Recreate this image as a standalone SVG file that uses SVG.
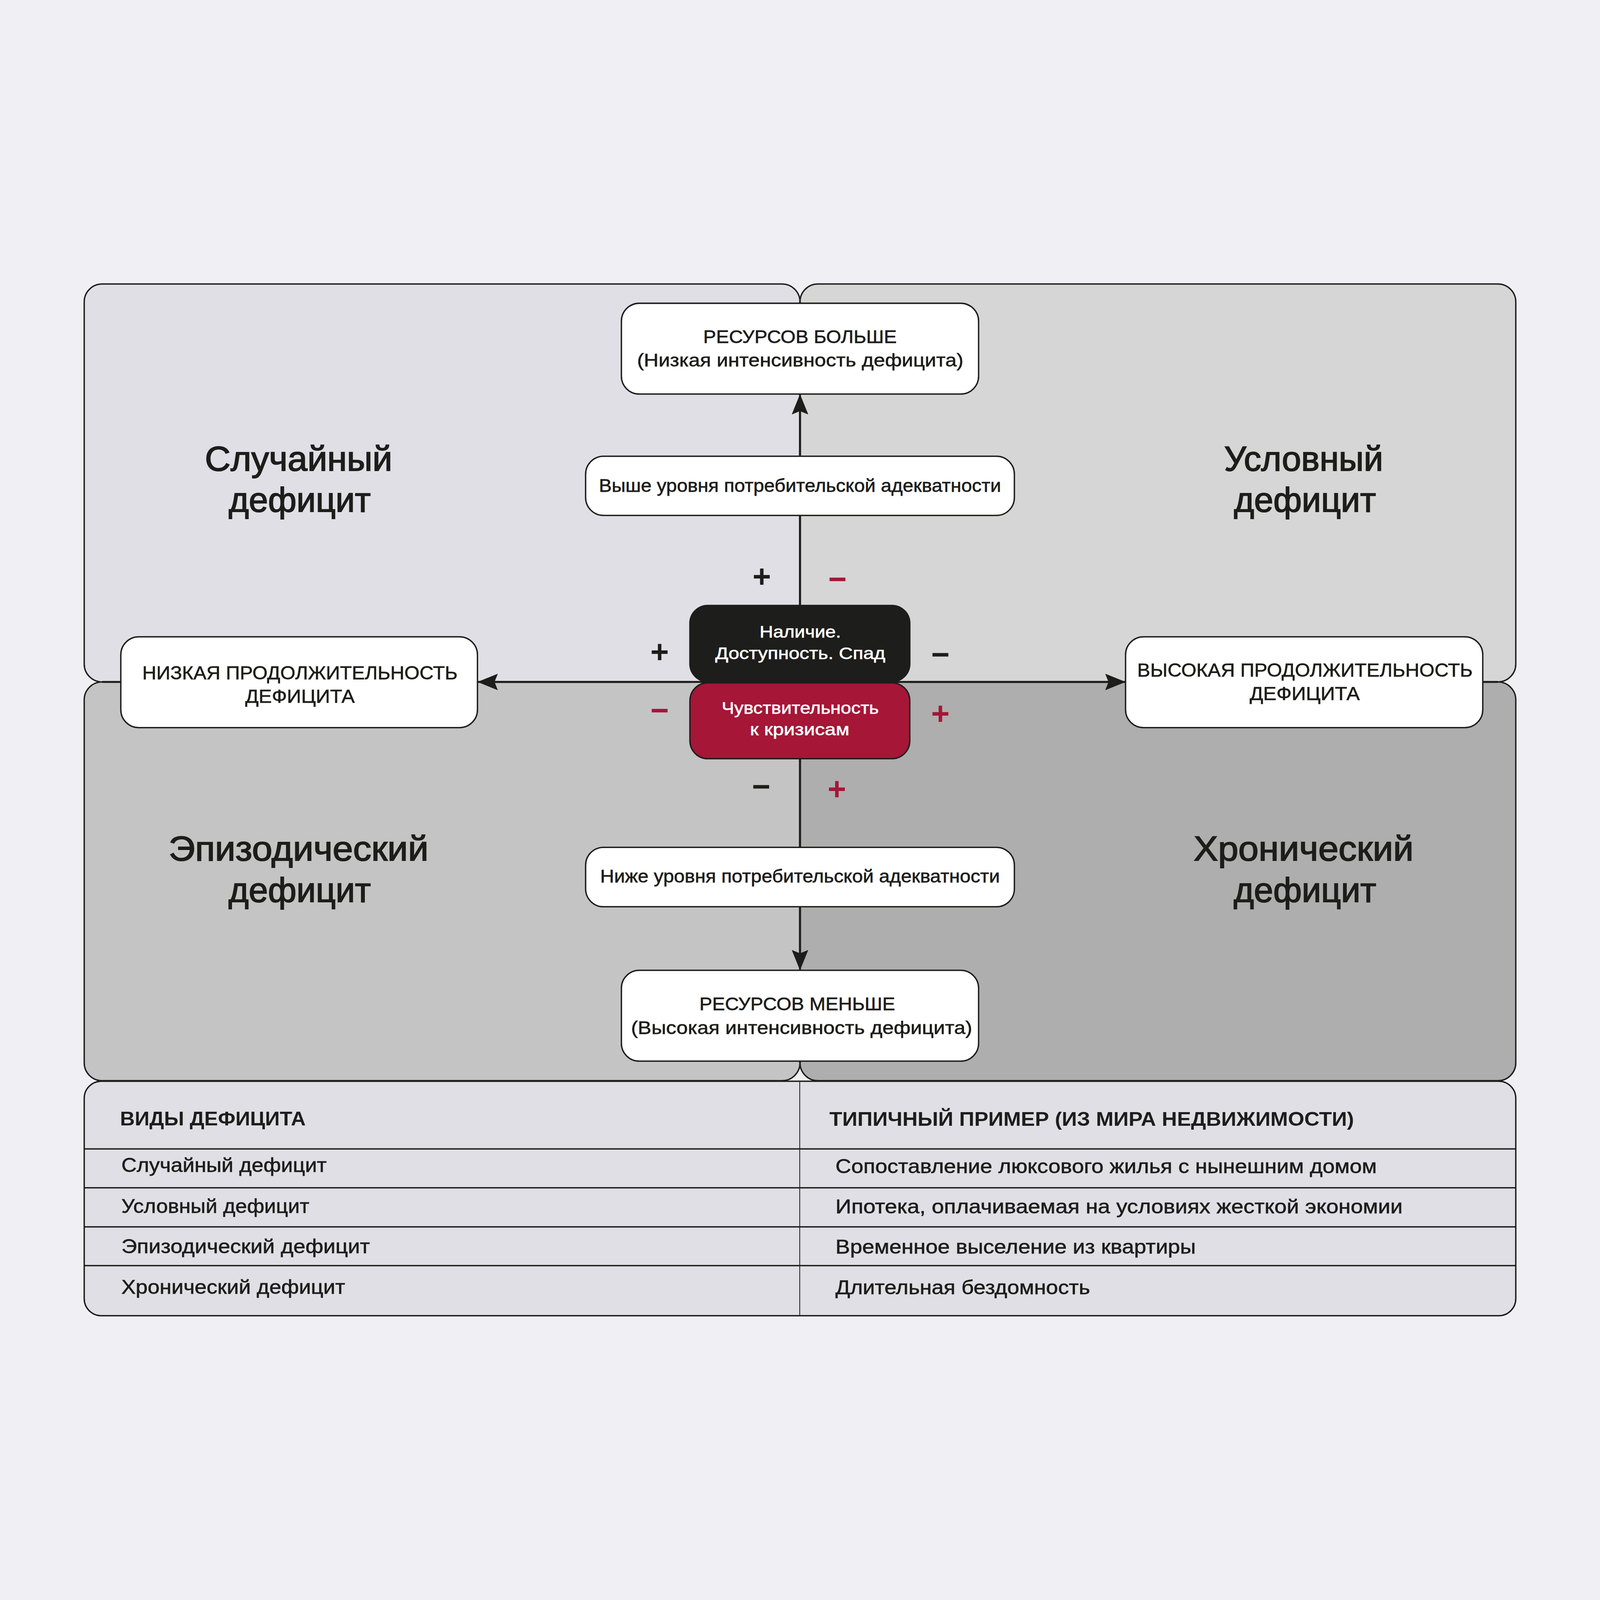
<svg xmlns="http://www.w3.org/2000/svg" width="5814" height="4292" viewBox="0 0 5814 4292" style="width:100vw;height:100vh;display:block;background:#efeff4">
<style>
.panel{stroke:#1d1d1b;stroke-width:5}
.box{fill:#ffffff;stroke:#1d1d1b;stroke-width:5}
.t{font-family:"Liberation Sans",Arial,sans-serif;fill:#1d1d1b;stroke:#1d1d1b;stroke-width:1.2}
.mid{text-anchor:middle}
.big{font-size:125px;stroke-width:3}
.bx{font-size:66px}
.ctr{font-size:60px;fill:#ffffff;stroke:#ffffff}
.side{font-size:68px}
.th{font-size:72px;font-weight:bold;stroke-width:0}
.td{font-size:72px}
.sign{font-family:"Liberation Sans",Arial,sans-serif;font-size:115px;font-weight:bold;text-anchor:middle}
.blk{fill:#1d1d1b}
.red{fill:#a51637}
.axis{stroke:#1d1d1b;stroke-width:7;fill:none}
.arrow{stroke:#1d1d1b;stroke-width:7;fill:none;marker-end:url(#ah)}
.row{stroke:#1d1d1b;stroke-width:5}
.col{stroke:#1d1d1b;stroke-width:3}
</style>
<defs>
<marker id="ah" markerUnits="userSpaceOnUse" viewBox="0 0 74 60" markerWidth="74" markerHeight="60" refX="14" refY="30" orient="auto">
<path d="M0,0 L74,30 L0,60 L12,30 z" fill="#1d1d1b"/>
</marker>
</defs>
<rect x="0" y="0" width="5814" height="4292" fill="#efeff4"/>

<g id="quadrants">
<rect id="q-tl" class="panel" x="306" y="271" width="2601" height="1446" rx="65" ry="65" fill="#e0dfe5"/>
<rect id="q-tr" class="panel" x="2907" y="271" width="2601" height="1446" rx="65" ry="65" fill="#d6d6d6"/>
<rect id="q-bl" class="panel" x="306" y="1717" width="2601" height="1449" rx="65" ry="65" fill="#c4c4c4"/>
<rect id="q-br" class="panel" x="2907" y="1717" width="2601" height="1449" rx="65" ry="65" fill="#aeaeae"/>
<g class="t big mid">
<text x="1085" y="949" textLength="681" lengthAdjust="spacingAndGlyphs">Случайный</text>
<text x="1089" y="1098" textLength="516" lengthAdjust="spacingAndGlyphs">дефицит</text>
<text x="4737" y="949" textLength="578" lengthAdjust="spacingAndGlyphs">Условный</text>
<text x="4742" y="1098" textLength="516" lengthAdjust="spacingAndGlyphs">дефицит</text>
<text x="1085" y="2366" textLength="944" lengthAdjust="spacingAndGlyphs">Эпизодический</text>
<text x="1089" y="2516" textLength="517" lengthAdjust="spacingAndGlyphs">дефицит</text>
<text x="4737" y="2366" textLength="799" lengthAdjust="spacingAndGlyphs">Хронический</text>
<text x="4742" y="2516" textLength="518" lengthAdjust="spacingAndGlyphs">дефицит</text>
</g>
</g>

<g id="connectors">
<line class="axis" x1="371" y1="1717" x2="5443" y2="1717"/>
<line class="axis" x1="2907" y1="336" x2="2907" y2="3101"/>
<path class="arrow" d="M2907,1439 L2907,731"/>
<path class="arrow" d="M2907,1996 L2907,2705"/>
<path class="arrow" d="M2507,1717 L1795,1717"/>
<path class="arrow" d="M3306,1717 L4030,1717"/>
</g>

<g id="signs">
<text class="sign blk" x="2768" y="1373">+</text>
<text class="sign red" x="3043" y="1383">−</text>
<text class="sign blk" x="2397" y="1646">+</text>
<text class="sign blk" x="3417" y="1657">−</text>
<text class="sign red" x="2397" y="1859">−</text>
<text class="sign red" x="3417" y="1870">+</text>
<text class="sign blk" x="2766" y="2136">−</text>
<text class="sign red" x="3041" y="2145">+</text>
</g>

<g id="node-more">
<rect class="box" x="2258" y="341" width="1298" height="330" rx="65" ry="65"/>
<text class="t bx mid" x="2907" y="485" textLength="703" lengthAdjust="spacingAndGlyphs">РЕСУРСОВ БОЛЬШЕ</text>
<text class="t bx mid" x="2908" y="571" textLength="1186" lengthAdjust="spacingAndGlyphs">(Низкая интенсивность дефицита)</text>
</g>
<g id="node-above">
<rect class="box" x="2128" y="897" width="1558" height="215" rx="65" ry="65"/>
<text class="t bx mid" x="2907" y="1026" textLength="1461" lengthAdjust="spacingAndGlyphs">Выше уровня потребительской адекватности</text>
</g>
<g id="node-availability">
<rect x="2507" y="1439" width="799" height="277" rx="65" ry="65" fill="#1d1d1b" stroke="#1d1d1b" stroke-width="5"/>
<text class="t ctr mid" x="2908" y="1555" textLength="296" lengthAdjust="spacingAndGlyphs">Наличие.</text>
<text class="t ctr mid" x="2908" y="1634" textLength="618" lengthAdjust="spacingAndGlyphs">Доступность. Спад</text>
</g>
<g id="node-sensitivity">
<rect x="2507" y="1720" width="799" height="276" rx="65" ry="65" fill="#a51637" stroke="#1d1d1b" stroke-width="5"/>
<text class="t ctr mid" x="2908" y="1833" textLength="571" lengthAdjust="spacingAndGlyphs">Чувствительность</text>
<text class="t ctr mid" x="2906" y="1911" textLength="361" lengthAdjust="spacingAndGlyphs">к кризисам</text>
</g>
<g id="node-low-duration">
<rect class="box" x="439" y="1553" width="1296" height="330" rx="65" ry="65"/>
<text class="t side mid" x="1090" y="1707" textLength="1146" lengthAdjust="spacingAndGlyphs">НИЗКАЯ ПРОДОЛЖИТЕЛЬНОСТЬ</text>
<text class="t side mid" x="1090" y="1793" textLength="398" lengthAdjust="spacingAndGlyphs">ДЕФИЦИТА</text>
</g>
<g id="node-high-duration">
<rect class="box" x="4090" y="1553" width="1298" height="330" rx="65" ry="65"/>
<text class="t side mid" x="4742" y="1697" textLength="1219" lengthAdjust="spacingAndGlyphs">ВЫСОКАЯ ПРОДОЛЖИТЕЛЬНОСТЬ</text>
<text class="t side mid" x="4741" y="1783" textLength="400" lengthAdjust="spacingAndGlyphs">ДЕФИЦИТА</text>
</g>
<g id="node-below">
<rect class="box" x="2128" y="2318" width="1558" height="216" rx="65" ry="65"/>
<text class="t bx mid" x="2907" y="2445" textLength="1452" lengthAdjust="spacingAndGlyphs">Ниже уровня потребительской адекватности</text>
</g>
<g id="node-less">
<rect class="box" x="2258" y="2765" width="1298" height="330" rx="65" ry="65"/>
<text class="t bx mid" x="2897" y="2910" textLength="711" lengthAdjust="spacingAndGlyphs">РЕСУРСОВ МЕНЬШЕ</text>
<text class="t bx mid" x="2913" y="2996" textLength="1240" lengthAdjust="spacingAndGlyphs">(Высокая интенсивность дефицита)</text>
</g>

<g id="table">
<rect class="panel" x="306" y="3168" width="5202" height="852" rx="62" ry="62" fill="#e0dfe5"/>
<line class="row" x1="306" y1="3414" x2="5508" y2="3414"/>
<line class="row" x1="306" y1="3555" x2="5508" y2="3555"/>
<line class="row" x1="306" y1="3697" x2="5508" y2="3697"/>
<line class="row" x1="306" y1="3838" x2="5508" y2="3838"/>
<line class="col" x1="2906" y1="3170" x2="2906" y2="4018"/>
<text class="t th" x="436" y="3328" textLength="675" lengthAdjust="spacingAndGlyphs">ВИДЫ ДЕФИЦИТА</text>
<text class="t th" x="3014" y="3330" textLength="1906" lengthAdjust="spacingAndGlyphs">ТИПИЧНЫЙ ПРИМЕР (ИЗ МИРА НЕДВИЖИМОСТИ)</text>
<text class="t td" x="441" y="3498" textLength="746" lengthAdjust="spacingAndGlyphs">Случайный дефицит</text>
<text class="t td" x="441" y="3646" textLength="683" lengthAdjust="spacingAndGlyphs">Условный дефицит</text>
<text class="t td" x="441" y="3793" textLength="903" lengthAdjust="spacingAndGlyphs">Эпизодический дефицит</text>
<text class="t td" x="441" y="3940" textLength="813" lengthAdjust="spacingAndGlyphs">Хронический дефицит</text>
<text class="t td" x="3036" y="3502" textLength="1967" lengthAdjust="spacingAndGlyphs">Сопоставление люксового жилья с нынешним домом</text>
<text class="t td" x="3036" y="3648" textLength="2061" lengthAdjust="spacingAndGlyphs">Ипотека, оплачиваемая на условиях жесткой экономии</text>
<text class="t td" x="3036" y="3794" textLength="1309" lengthAdjust="spacingAndGlyphs">Временное выселение из квартиры</text>
<text class="t td" x="3036" y="3942" textLength="925" lengthAdjust="spacingAndGlyphs">Длительная бездомность</text>
</g>
</svg>
